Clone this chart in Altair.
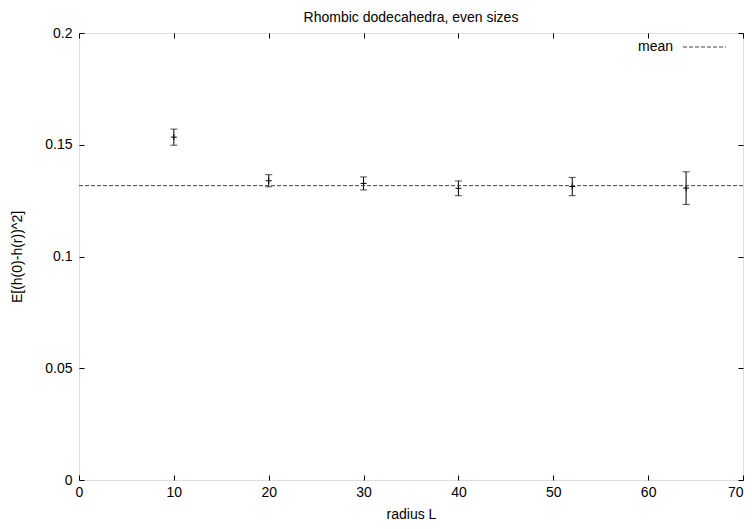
import altair as alt
import pandas as pd

# data
radius = [10, 20, 30, 40, 52, 64]
value = [0.1534, 0.1339, 0.1327, 0.1305, 0.1313, 0.1306]
error = [0.0036, 0.0027, 0.0029, 0.0033, 0.0041, 0.0073]
mean_value = [0.1317]
x_ticks = [0, 10, 20, 30, 40, 50, 60, 70]
y_ticks = [0, 0.05, 0.1, 0.15, 0.2]
title_text = ["Rhombic dodecahedra, even sizes"]

df = pd.DataFrame({"r": radius, "v": value, "e": error})
df["lo"] = df["v"] - df["e"]
df["hi"] = df["v"] + df["e"]
mean_df = pd.DataFrame({"m": mean_value})
title_df = pd.DataFrame({"t": title_text})

W, H = 664, 447
FONT = "Liberation Sans"
FS = 14

xs = alt.Scale(domain=[0, 70], nice=False, zero=False)
ys = alt.Scale(domain=[0, 0.2], nice=False, zero=False)


def label_axis(orient, values, title, fmt, **kw):
    return alt.Axis(orient=orient, values=values, format=fmt, title=title, grid=False,
                    domain=False, ticks=False, labelOverlap=False, labelFlush=False,
                    labelFont=FONT, labelFontSize=FS,
                    labelColor="black", titleFont=FONT, titleFontSize=FS,
                    titleFontWeight="normal", titleColor="black", **kw)


def tick_axis(orient, values, offset):
    return alt.Axis(orient=orient, values=values, offset=offset, labels=False, title=None,
                    grid=False, domain=False, ticks=True, tickSize=5, tickColor="black",
                    tickWidth=1)


base = alt.Chart(df)

bars = base.mark_rule(color="black", strokeWidth=1).encode(
    x=alt.X("r:Q", scale=xs,
            axis=label_axis("bottom", x_ticks, "radius L", "d", labelPadding=5,
                            titlePadding=8,
                            labelAlign={"condition": {"test": "datum.value >= 70", "value": "right"},
                                        "value": "center"})),
    y=alt.Y("lo:Q", scale=ys,
            axis=label_axis("left", y_ticks, "E[(h(0)-h(r))^2]", "", labelPadding=7,
                            titlePadding=20)),
    y2="hi:Q",
)

caps_hi = base.mark_tick(orient="horizontal", size=7, thickness=1, color="black").encode(
    x=alt.X("r:Q", scale=xs, axis=tick_axis("top", x_ticks, -H)),
    y=alt.Y("hi:Q", scale=ys, axis=tick_axis("right", y_ticks, -W)),
)

caps_lo = base.mark_tick(orient="horizontal", size=7, thickness=1, color="black").encode(
    x=alt.X("r:Q", scale=xs, axis=tick_axis("bottom", x_ticks, -H)),
    y=alt.Y("lo:Q", scale=ys, axis=tick_axis("left", y_ticks, -W)),
)

points = base.mark_point(shape="M-1,0L1,0M0,-1L0,1", size=36, filled=False,
                         color="black", strokeWidth=1, opacity=1).encode(
    x=alt.X("r:Q", scale=xs, axis=None),
    y=alt.Y("v:Q", scale=ys, axis=None),
)

mean_line = alt.Chart(mean_df).mark_rule(color="#444", strokeWidth=1, strokeDash=[4, 2]).encode(
    y=alt.Y("m:Q", scale=ys, axis=None),
)

legend_text = alt.Chart(mean_df).mark_text(font=FONT, fontSize=FS, align="right",
                                           baseline="middle", color="black").encode(
    x=alt.value(594), y=alt.value(14), text=alt.value("mean"),
)
legend_line = alt.Chart(mean_df).mark_rule(color="#444", strokeWidth=1, strokeDash=[4, 2]).encode(
    x=alt.value(604), x2=alt.value(647), y=alt.value(14),
)

title_mark = alt.Chart(title_df).mark_text(font=FONT, fontSize=FS, align="center",
                                           baseline="middle", color="black").encode(
    x=alt.value(W / 2), y=alt.value(-15), text="t:N",
)

chart = alt.layer(bars, caps_hi, caps_lo, points, mean_line, legend_text, legend_line,
                  title_mark).resolve_axis(
    x="independent", y="independent"
).properties(
    width=W, height=H,
    autosize=alt.AutoSizeParams(type="none"),
    padding={"left": 71, "top": 25, "right": 1, "bottom": 40},
).configure_view(stroke="black", strokeWidth=1).configure(background="white")

chart.save("out.html", embed_options={"renderer": "svg", "actions": False})
